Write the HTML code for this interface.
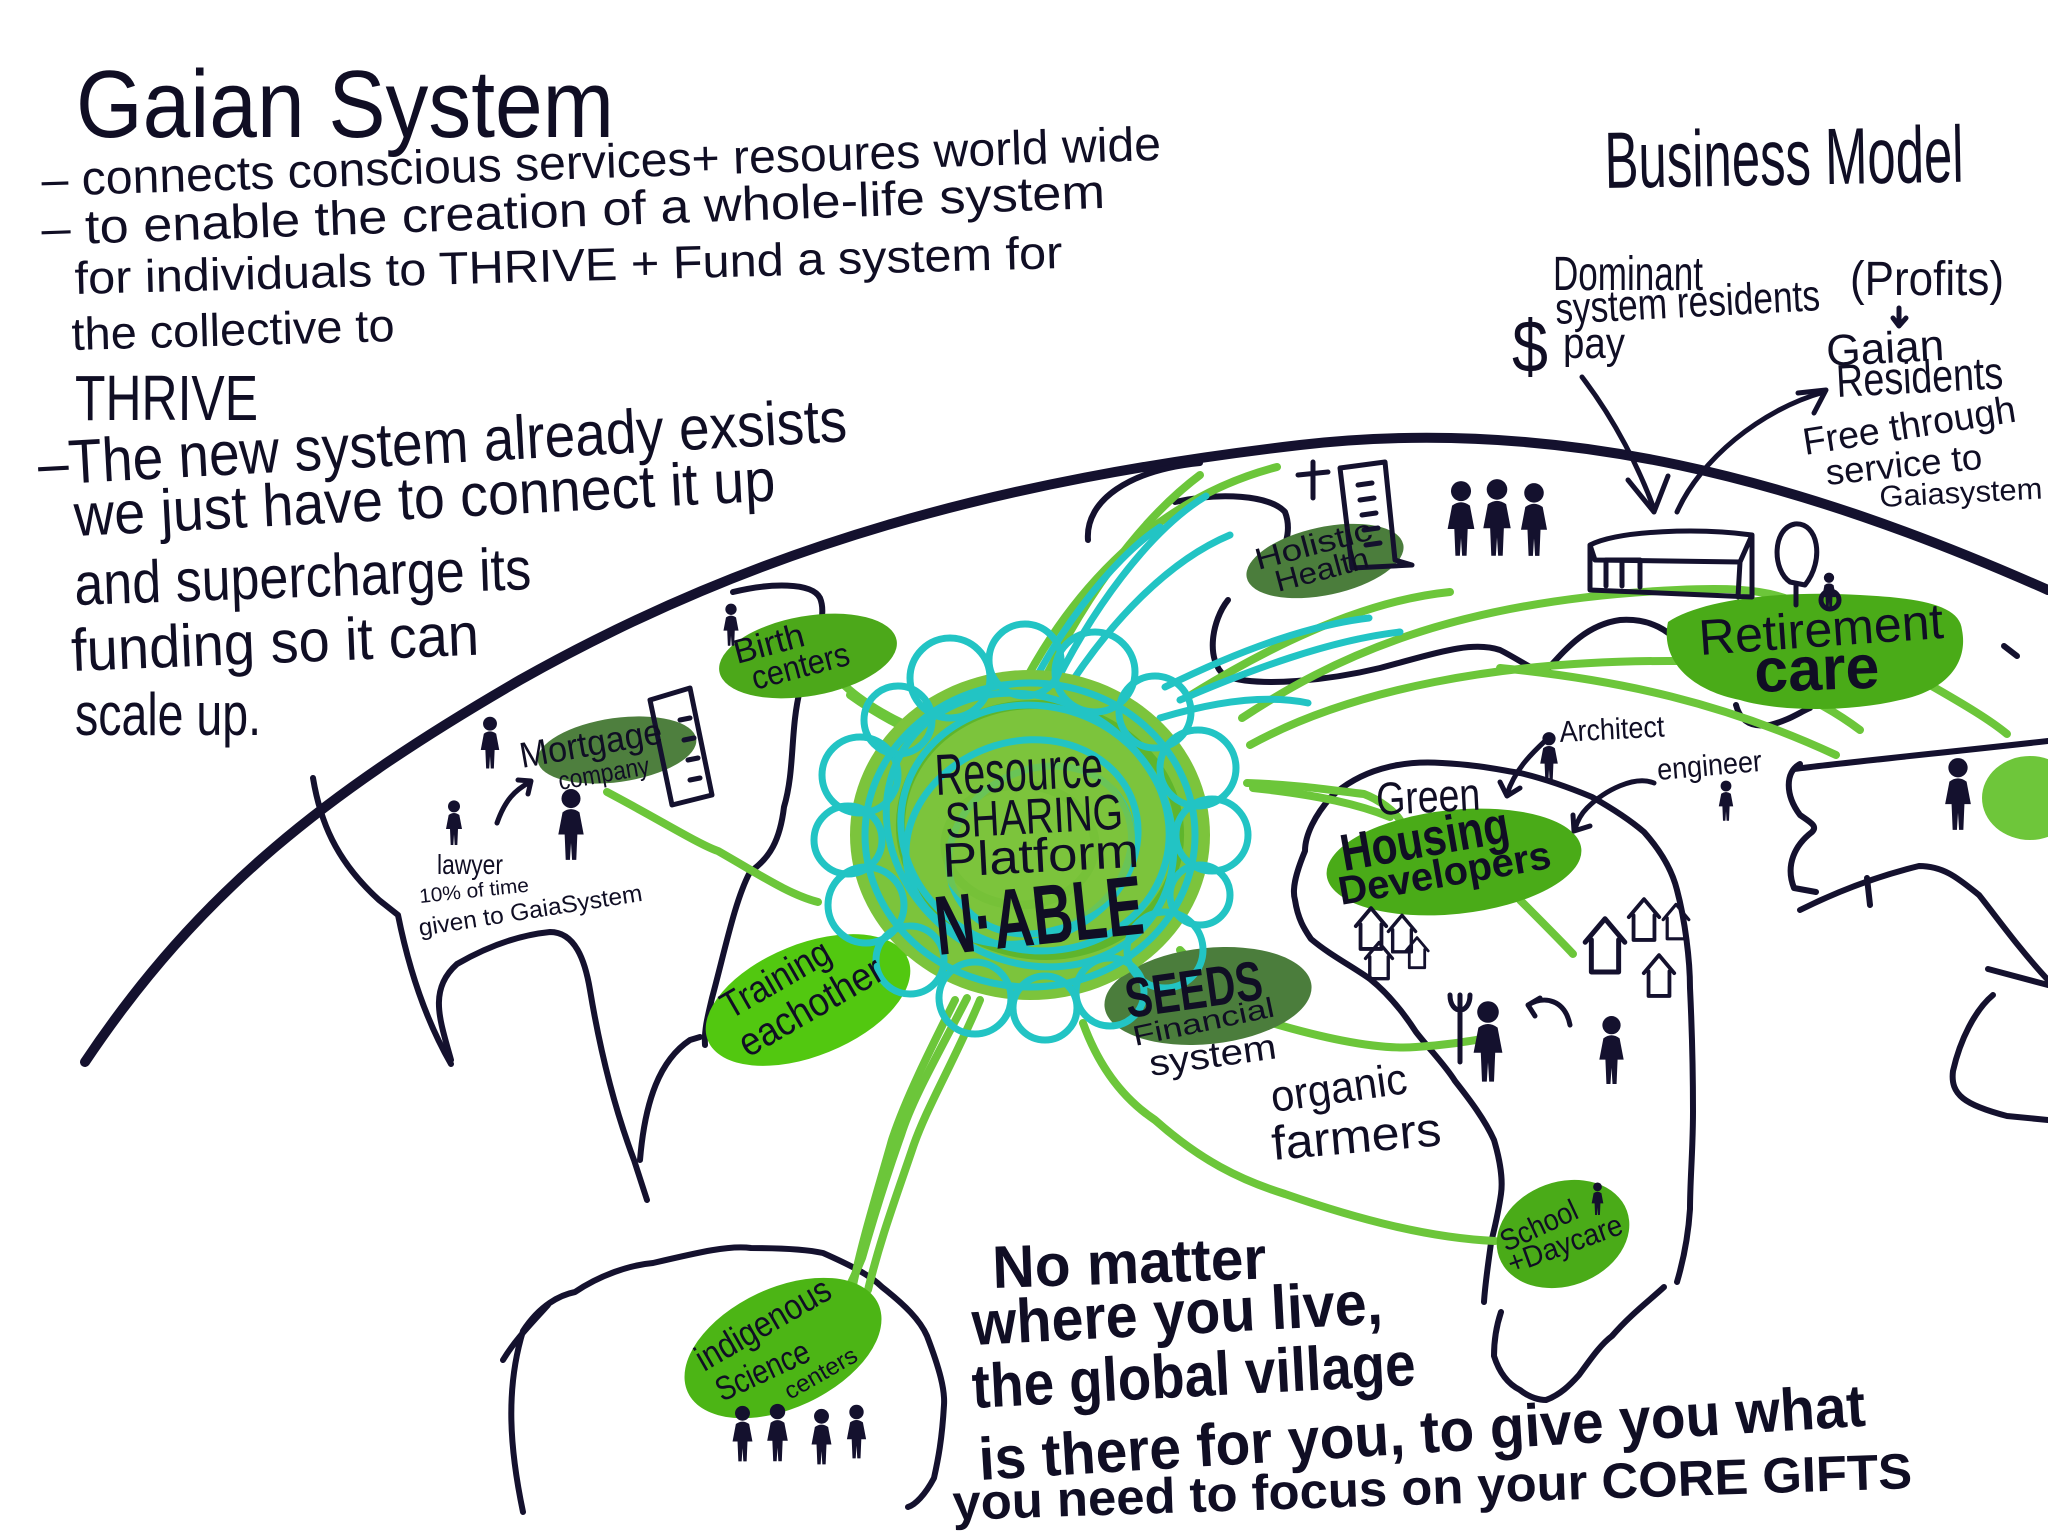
<!DOCTYPE html>
<html><head><meta charset="utf-8"><style>
html,body{margin:0;padding:0;background:#fff;}
svg{display:block;}
text{font-family:"Liberation Sans",sans-serif;fill:#100e24;}
</style></head><body>
<svg width="2048" height="1535" viewBox="0 0 2048 1535" xmlns="http://www.w3.org/2000/svg">
<defs>
<symbol id="p" viewBox="0 0 30 70"><circle cx="15" cy="10" r="9" fill="#14112e"/><path d="M7,23 Q15,17 23,23 L27,44 L21,44 L20,68 L16,68 L15,52 L14,68 L10,68 L9,44 L3,44 Z" fill="#14112e"/></symbol>
<symbol id="h" viewBox="0 0 40 50"><path d="M4,22 L20,3 L36,22 M9,20 L9,46 L31,46 L31,20" fill="none" stroke="#14112e" stroke-width="4" stroke-linejoin="round" stroke-linecap="round"/></symbol>
</defs>
<rect width="2048" height="1535" fill="#fff"/>

<!-- big globe arc -->
<path d="M85,1062 C200,890 330,790 520,680 C760,545 1000,480 1300,445 C1560,415 1800,480 2048,590" fill="none" stroke="#14112e" stroke-width="10" stroke-linecap="round"/>

<g fill="none" stroke="#14112e" stroke-width="6" stroke-linecap="round" stroke-linejoin="round">
<path d="M313,778 C320,820 335,860 379,900 L398,915 C405,950 420,1010 451,1064"/>
<path d="M451,1060 C440,1020 428,990 457,964 C490,945 520,935 550,932 C575,932 585,960 590,990 C600,1050 615,1110 634,1160 L647,1200"/>
<path d="M640,1160 C645,1100 660,1060 690,1040 L700,1037"/>
<path d="M733,592 C770,583 812,582 820,598 C830,622 805,660 800,690 C790,730 795,770 784,807 C780,840 770,858 750,872 C735,900 725,950 712,998 C708,1015 704,1030 705,1045"/>
<path d="M523,1512 C510,1450 505,1390 523,1331 C540,1305 560,1295 575,1292 C600,1275 630,1265 653,1263 C700,1252 730,1245 751,1248 C790,1248 810,1250 823,1253 C850,1265 870,1275 882,1287 C905,1305 920,1320 927,1336 C940,1370 945,1390 944,1405 C942,1440 938,1460 934,1478 C925,1495 915,1505 908,1507"/>
<path d="M503,1360 C515,1340 530,1325 548,1305"/>
<path d="M1088,540 C1085,500 1130,470 1200,463"/>
<path d="M1175,502 C1220,492 1270,495 1285,512 C1292,530 1285,545 1280,560"/>
<path d="M1228,600 C1212,620 1205,660 1225,676 C1260,688 1330,680 1380,668 C1430,655 1470,640 1500,650 C1520,660 1535,672 1545,672 C1565,650 1585,625 1620,620 C1650,618 1670,630 1685,650 C1695,670 1705,685 1720,690"/>
<path d="M1736,705 C1740,720 1750,728 1770,725 C1790,720 1800,712 1810,708"/>
<path d="M2004,646 L2017,656"/>
<path d="M1442,763 C1400,760 1360,770 1331,797 C1315,815 1305,835 1305,851 C1295,875 1292,890 1295,900 C1298,920 1305,930 1311,939 C1330,955 1350,965 1370,979 C1390,995 1405,1015 1416,1032 C1430,1050 1445,1065 1455,1081 C1470,1100 1485,1120 1494,1140 C1500,1160 1503,1180 1501,1194 C1498,1215 1494,1230 1491,1243 C1488,1265 1485,1285 1484,1302"/>
<path d="M1442,763 C1480,765 1500,770 1520,773 C1550,780 1575,790 1592,797 C1615,810 1630,820 1644,832 C1660,850 1672,870 1677,890 C1685,920 1690,960 1690,988 C1692,1030 1693,1080 1693,1111 C1693,1150 1690,1180 1690,1209 C1688,1240 1682,1265 1677,1282"/>
<path d="M1501,1312 C1495,1330 1494,1345 1494,1356 C1500,1375 1510,1385 1520,1390 C1530,1398 1540,1400 1546,1400 C1560,1395 1570,1385 1579,1375 C1590,1360 1600,1345 1612,1336 C1630,1315 1650,1300 1664,1287"/>
<path d="M1794,769 C1850,762 1950,752 2048,741"/>
<path d="M1800,764 C1785,772 1785,795 1800,815 C1810,822 1818,826 1812,832 C1795,845 1785,865 1794,888 L1816,892"/>
<path d="M1800,910 C1830,895 1870,878 1919,866 C1945,866 1960,880 1979,895 C1995,915 2020,950 2048,980"/>
<path d="M1867,878 L1870,905"/>
<path d="M1988,969 L2048,985"/>
<path d="M1993,995 C1975,1010 1960,1040 1953,1071 C1950,1095 1965,1105 2007,1116 L2048,1120"/>
</g>

<!-- green connector lines -->
<g fill="none" stroke="#6cc63a" stroke-width="8" stroke-linecap="round">
<path d="M607,792 C660,820 700,845 718,851 C760,875 790,895 818,902"/>
<path d="M844,685 C860,700 880,712 900,722"/>
<path d="M850,695 C868,708 885,718 905,728"/>
<path d="M1007,718 C1060,600 1150,500 1277,467"/>
<path d="M1030,710 C1080,600 1140,520 1200,475"/>
<path d="M1191,695 C1280,640 1370,600 1450,592"/>
<path d="M1242,718 C1330,660 1450,600 1677,590 C1720,588 1760,588 1790,600"/>
<path d="M1250,745 C1350,690 1500,660 1677,661 C1760,670 1820,700 1860,730"/>
<path d="M1500,668 C1620,680 1724,703 1836,755"/>
<path d="M1930,685 C1965,705 1990,720 2007,734"/>
<path d="M1247,783 C1300,785 1330,790 1364,794 C1380,800 1395,812 1400,820"/>
<path d="M1253,788 C1320,795 1360,805 1390,817"/>
<path d="M1520,900 C1545,925 1560,940 1573,954"/>
<path d="M1272,1023 C1330,1040 1380,1050 1416,1047 C1450,1045 1475,1040 1494,1037"/>
<path d="M1083,1023 C1100,1070 1125,1100 1155,1120 C1200,1160 1240,1180 1285,1194 C1360,1220 1430,1238 1495,1241"/>
<path d="M967,998 C935,1060 912,1100 901,1135 C885,1180 870,1230 862,1258 C855,1275 848,1290 843,1297"/>
<path d="M980,1000 C955,1060 925,1110 912,1150 C895,1200 880,1240 868,1290"/>
<path d="M955,1000 C930,1050 905,1100 892,1140 C878,1190 862,1240 852,1290"/>
<path d="M910,950 C890,960 880,970 870,980"/>
<path d="M1180,950 C1190,960 1195,970 1200,980"/>
</g>
<g fill="none" stroke="#22c4c4" stroke-width="7" stroke-linecap="round">
<path d="M1048,699 C1090,610 1150,530 1206,496"/>
<path d="M1017,718 C1050,640 1110,560 1160,527"/>
<path d="M1060,700 C1110,620 1170,560 1230,535"/>
<path d="M1160,718 C1220,700 1270,695 1308,703"/>
<path d="M1165,687 C1240,650 1310,625 1369,618"/>
<path d="M1180,700 C1250,670 1330,640 1400,632"/>
</g>

<!-- blobs -->
<g>
<ellipse cx="617" cy="750" rx="80" ry="32" fill="#4e7f3e" transform="rotate(-8 617 750)"/>
<ellipse cx="808" cy="656" rx="90" ry="40" fill="#4ca81a" transform="rotate(-10 808 656)"/>
<ellipse cx="1325" cy="561" rx="80" ry="34" fill="#4b7d3c" transform="rotate(-12 1325 561)"/>
<path d="M1668,622 C1700,600 1780,590 1860,595 C1920,598 1960,605 1962,630 C1968,660 1950,690 1900,700 C1850,712 1780,712 1740,700 C1690,690 1660,660 1668,622 Z" fill="#4aab18"/>
<ellipse cx="808" cy="1000" rx="108" ry="56" fill="#52c810" transform="rotate(-22 808 1000)"/>
<ellipse cx="1208" cy="996" rx="104" ry="48" fill="#4b7d3c" transform="rotate(-6 1208 996)"/>
<ellipse cx="1454" cy="862" rx="128" ry="52" fill="#4aab18" transform="rotate(-6 1454 862)"/>
<ellipse cx="1563" cy="1234" rx="68" ry="52" fill="#4aab18" transform="rotate(-20 1563 1234)"/>
<ellipse cx="783" cy="1348" rx="105" ry="60" fill="#4cb515" transform="rotate(-25 783 1348)"/>
<ellipse cx="2030" cy="798" rx="48" ry="42" fill="#6ec63a"/>
</g>

<!-- platform -->
<g>
<ellipse cx="1030" cy="835" rx="180" ry="165" fill="#7cc43c"/>
<g fill="none" stroke="#5fb52c" stroke-width="9">
<ellipse cx="1040" cy="830" rx="140" ry="125" transform="rotate(10 1040 830)"/>
<ellipse cx="1020" cy="845" rx="75" ry="60"/>
</g>
<g fill="none" stroke="#22c4c4" stroke-width="7">
<circle cx="1212" cy="835" r="36"/><circle cx="1200" cy="895" r="30"/><circle cx="1165" cy="950" r="38"/><circle cx="1110" cy="992" r="34"/>
<circle cx="1045" cy="1008" r="32"/><circle cx="975" cy="998" r="36"/><circle cx="910" cy="960" r="34"/><circle cx="866" cy="905" r="38"/>
<circle cx="848" cy="840" r="34"/><circle cx="860" cy="775" r="38"/><circle cx="898" cy="720" r="34"/><circle cx="950" cy="678" r="40"/>
<circle cx="1025" cy="660" r="36"/><circle cx="1095" cy="672" r="40"/><circle cx="1155" cy="712" r="36"/><circle cx="1198" cy="768" r="38"/>
<ellipse cx="1030" cy="835" rx="165" ry="152"/>
<ellipse cx="1035" cy="828" rx="135" ry="122" transform="rotate(15 1035 828)"/>
<ellipse cx="1022" cy="842" rx="118" ry="100" transform="rotate(-20 1022 842)"/>
<ellipse cx="1030" cy="830" rx="150" ry="130" transform="rotate(35 1030 830)"/>
<ellipse cx="1040" cy="850" rx="95" ry="80" transform="rotate(-30 1040 850)"/>
</g>
<ellipse cx="1035" cy="840" rx="100" ry="88" fill="#7cc43c" opacity="0.8"/>
</g>

<!-- icons -->
<g fill="none" stroke="#14112e" stroke-width="5" stroke-linecap="round" stroke-linejoin="round">
<path d="M650,700 L690,688 L712,795 L672,805 Z"/>
<path d="M680,720 L690,718 M684,740 L694,738 M688,760 L698,758 M690,780 L700,778"/>
<path d="M1340,468 L1385,462 L1395,560 L1412,565 L1352,568 Z"/>
<path d="M1358,485 L1372,483 M1360,500 L1374,498 M1362,515 L1376,513 M1364,530 L1378,528 M1366,545 L1380,543"/>
<path d="M1313,462 L1313,498 M1298,475 L1328,472"/>
<path d="M1590,545 C1620,530 1700,528 1752,535 L1752,597 L1590,590 Z M1590,545 L1595,560 L1740,562 L1752,535 M1740,562 L1738,597"/>
<path d="M1606,586 L1606,560 L1640,560 L1640,587 M1622,562 L1622,586"/>
<path d="M1790,582 C1772,570 1772,528 1795,524 C1818,522 1825,560 1805,585 Z M1796,586 L1796,605"/>
<circle cx="1830" cy="600" r="9"/>
<path d="M1582,377 C1615,420 1640,470 1654,509"/>
<path d="M1628,480 L1654,512 L1668,476"/>
<path d="M1677,512 C1700,460 1760,410 1824,392"/>
<path d="M1798,393 L1826,390 L1814,413"/>
<path d="M1899,308 L1899,326 M1893,318 L1899,326 L1906,318"/>
<path d="M497,823 C505,800 515,790 530,782 M518,780 L531,781 L528,794"/>
<path d="M1545,741 C1530,755 1515,770 1507,794 M1500,782 L1507,796 L1520,788"/>
<path d="M1654,783 C1635,775 1605,790 1587,808 C1580,815 1577,822 1575,829 M1573,815 L1574,831 L1590,826"/>
<path d="M1528,1005 C1545,995 1565,1000 1570,1025 M1528,1005 L1540,998 M1528,1005 L1535,1016"/>
<path d="M1460,995 L1460,1062 M1450,995 C1450,1015 1470,1015 1470,995"/>
</g>
<use href="#h" x="1352" y="905" width="38" height="48"/>
<use href="#h" x="1385" y="912" width="34" height="44"/>
<use href="#h" x="1362" y="940" width="34" height="42"/>
<use href="#h" x="1403" y="935" width="28" height="36"/>
<use href="#h" x="1580" y="915" width="50" height="62"/>
<use href="#h" x="1625" y="895" width="38" height="50"/>
<use href="#h" x="1660" y="900" width="32" height="44"/>
<use href="#h" x="1640" y="950" width="38" height="52"/>
<use href="#p" x="716" y="603" width="30" height="44"/>
<use href="#p" x="477" y="716" width="26" height="54"/>
<use href="#p" x="444" y="797" width="20" height="52"/>
<use href="#p" x="553" y="788" width="36" height="74"/>
<use href="#p" x="1442" y="480" width="38" height="78"/>
<use href="#p" x="1478" y="478" width="38" height="80"/>
<use href="#p" x="1515" y="482" width="38" height="76"/>
<use href="#p" x="1818" y="572" width="22" height="40"/>
<use href="#p" x="1538" y="727" width="22" height="60"/>
<use href="#p" x="1711" y="780" width="30" height="42"/>
<use href="#p" x="1468" y="1000" width="40" height="84"/>
<use href="#p" x="1595" y="1015" width="33" height="71"/>
<use href="#p" x="1585" y="1182" width="25" height="34"/>
<use href="#p" x="1937" y="757" width="42" height="75"/>
<use href="#p" x="725" y="1405" width="35" height="58"/>
<use href="#p" x="760" y="1403" width="35" height="60"/>
<use href="#p" x="805" y="1408" width="33" height="58"/>
<use href="#p" x="840" y="1404" width="33" height="56"/>

<!-- left text block -->
<text x="76" y="137" font-size="96" textLength="538" lengthAdjust="spacingAndGlyphs">Gaian System</text>
<text x="42" y="196" font-size="48" textLength="1120" lengthAdjust="spacingAndGlyphs" transform="rotate(-1.85 42 196)">– connects conscious services+ resoures world wide</text>
<text x="42" y="245" font-size="48" textLength="1064" lengthAdjust="spacingAndGlyphs" transform="rotate(-2 42 245)">– to enable the creation of a whole-life system</text>
<text x="75" y="294" font-size="46" textLength="988" lengthAdjust="spacingAndGlyphs" transform="rotate(-1.5 75 294)">for individuals to THRIVE + Fund a system for</text>
<text x="72" y="350" font-size="46" textLength="323" lengthAdjust="spacingAndGlyphs" transform="rotate(-1.6 72 350)">the collective to</text>
<text x="75" y="420" font-size="64" textLength="183" lengthAdjust="spacingAndGlyphs">THRIVE</text>
<text x="39" y="485" font-size="62" textLength="810" lengthAdjust="spacingAndGlyphs" transform="rotate(-3.1 39 485)">–The new system already exsists</text>
<text x="75" y="536" font-size="60" textLength="702" lengthAdjust="spacingAndGlyphs" transform="rotate(-2.9 75 536)">we just have to connect it up</text>
<text x="75" y="605" font-size="60" textLength="457" lengthAdjust="spacingAndGlyphs" transform="rotate(-2 75 605)">and supercharge its</text>
<text x="72" y="671" font-size="60" textLength="408" lengthAdjust="spacingAndGlyphs" transform="rotate(-2.3 72 671)">funding so it can</text>
<text x="75" y="735" font-size="60" textLength="186" lengthAdjust="spacingAndGlyphs">scale up.</text>

<!-- business model -->
<text x="1605" y="188" font-size="80" textLength="359" lengthAdjust="spacingAndGlyphs" transform="rotate(-1 1605 188)">Business Model</text>
<text x="1553" y="290" font-size="48" textLength="150" lengthAdjust="spacingAndGlyphs">Dominant</text>
<text x="1556" y="324" font-size="44" textLength="265" lengthAdjust="spacingAndGlyphs" transform="rotate(-3 1556 324)">system residents</text>
<text x="1850" y="295" font-size="48" textLength="154" lengthAdjust="spacingAndGlyphs">(Profits)</text>
<text x="1512" y="372" font-size="74" textLength="36" lengthAdjust="spacingAndGlyphs">$</text>
<text x="1563" y="358" font-size="44" textLength="62" lengthAdjust="spacingAndGlyphs">pay</text>
<text x="1827" y="366" font-size="44" textLength="118" lengthAdjust="spacingAndGlyphs" transform="rotate(-3 1827 366)">Gaian</text>
<text x="1837" y="397" font-size="46" textLength="167" lengthAdjust="spacingAndGlyphs" transform="rotate(-3 1837 397)">Residents</text>
<text x="1805" y="455" font-size="38" textLength="215" lengthAdjust="spacingAndGlyphs" transform="rotate(-9 1805 455)">Free through</text>
<text x="1827" y="485" font-size="36" textLength="157" lengthAdjust="spacingAndGlyphs" transform="rotate(-6 1827 485)">service to</text>
<text x="1880" y="507" font-size="30" textLength="163" lengthAdjust="spacingAndGlyphs" transform="rotate(-3 1880 507)">Gaiasystem</text>

<!-- blob labels -->
<text x="737" y="664" font-size="34" textLength="72" lengthAdjust="spacingAndGlyphs" transform="rotate(-15 737 664)">Birth</text>
<text x="755" y="690" font-size="34" textLength="100" lengthAdjust="spacingAndGlyphs" transform="rotate(-15 755 690)">centers</text>
<text x="522" y="768" font-size="36" textLength="144" lengthAdjust="spacingAndGlyphs" transform="rotate(-10 522 768)">Mortgage</text>
<text x="560" y="790" font-size="26" textLength="92" lengthAdjust="spacingAndGlyphs" transform="rotate(-10 560 790)">company</text>
<text x="1258" y="570" font-size="30" textLength="120" lengthAdjust="spacingAndGlyphs" transform="rotate(-15 1258 570)">Holistic</text>
<text x="1278" y="592" font-size="30" textLength="96" lengthAdjust="spacingAndGlyphs" transform="rotate(-15 1278 592)">Health</text>
<text x="1700" y="655" font-size="50" textLength="245" lengthAdjust="spacingAndGlyphs" transform="rotate(-4 1700 655)">Retirement</text>
<text x="1755" y="692" font-size="62" font-weight="bold" textLength="125" lengthAdjust="spacingAndGlyphs" transform="rotate(-2 1755 692)">care</text>
<text x="730" y="1020" font-size="38" textLength="120" lengthAdjust="spacingAndGlyphs" transform="rotate(-30 730 1020)">Training</text>
<text x="748" y="1058" font-size="40" textLength="160" lengthAdjust="spacingAndGlyphs" transform="rotate(-30 748 1058)">eachother</text>
<text x="1128" y="1018" font-size="56" font-weight="bold" textLength="138" lengthAdjust="spacingAndGlyphs" transform="rotate(-8 1128 1018)">SEEDS</text>
<text x="1135" y="1046" font-size="28" textLength="144" lengthAdjust="spacingAndGlyphs" transform="rotate(-12 1135 1046)">Financial</text>
<text x="1151" y="1076" font-size="36" textLength="128" lengthAdjust="spacingAndGlyphs" transform="rotate(-8 1151 1076)">system</text>
<text x="1377" y="815" font-size="46" textLength="104" lengthAdjust="spacingAndGlyphs" transform="rotate(-3 1377 815)">Green</text>
<text x="1344" y="871" font-size="52" font-weight="bold" textLength="170" lengthAdjust="spacingAndGlyphs" transform="rotate(-10 1344 871)">Housing</text>
<text x="1341" y="905" font-size="40" font-weight="bold" textLength="215" lengthAdjust="spacingAndGlyphs" transform="rotate(-10 1341 905)">Developers</text>
<text x="1506" y="1252" font-size="30" textLength="82" lengthAdjust="spacingAndGlyphs" transform="rotate(-25 1506 1252)">School</text>
<text x="1512" y="1274" font-size="30" textLength="120" lengthAdjust="spacingAndGlyphs" transform="rotate(-20 1512 1274)">+Daycare</text>
<text x="704" y="1372" font-size="36" textLength="150" lengthAdjust="spacingAndGlyphs" transform="rotate(-30 704 1372)">indigenous</text>
<text x="722" y="1402" font-size="34" textLength="100" lengthAdjust="spacingAndGlyphs" transform="rotate(-25 722 1402)">Science</text>
<text x="790" y="1400" font-size="24" textLength="80" lengthAdjust="spacingAndGlyphs" transform="rotate(-30 790 1400)">centers</text>

<!-- platform text -->
<text x="936" y="795" font-size="58" textLength="168" lengthAdjust="spacingAndGlyphs" transform="rotate(-3 936 795)">Resource</text>
<text x="946" y="838" font-size="50" textLength="178" lengthAdjust="spacingAndGlyphs" transform="rotate(-3 946 838)">SHARING</text>
<text x="943" y="877" font-size="48" textLength="197" lengthAdjust="spacingAndGlyphs" transform="rotate(-3 943 877)">Platform</text>
<text x="938" y="955" font-size="84" font-weight="bold" textLength="209" lengthAdjust="spacingAndGlyphs" transform="rotate(-6 938 955)">N·ABLE</text>

<!-- small labels -->
<text x="437" y="874" font-size="28" textLength="66" lengthAdjust="spacingAndGlyphs">lawyer</text>
<text x="420" y="903" font-size="20" textLength="110" lengthAdjust="spacingAndGlyphs" transform="rotate(-6 420 903)">10% of time</text>
<text x="420" y="936" font-size="24" textLength="226" lengthAdjust="spacingAndGlyphs" transform="rotate(-9 420 936)">given to GaiaSystem</text>
<text x="1560" y="742" font-size="30" textLength="105" lengthAdjust="spacingAndGlyphs" transform="rotate(-3 1560 742)">Architect</text>
<text x="1658" y="780" font-size="30" textLength="105" lengthAdjust="spacingAndGlyphs" transform="rotate(-5 1658 780)">engineer</text>
<text x="1273" y="1112" font-size="44" textLength="137" lengthAdjust="spacingAndGlyphs" transform="rotate(-8 1273 1112)">organic</text>
<text x="1273" y="1160" font-size="48" textLength="170" lengthAdjust="spacingAndGlyphs" transform="rotate(-5 1273 1160)">farmers</text>

<!-- bottom text -->
<g font-weight="bold">
<text x="993" y="1288" font-size="60" textLength="274" lengthAdjust="spacingAndGlyphs" transform="rotate(-2 993 1288)">No matter</text>
<text x="973" y="1345" font-size="62" textLength="411" lengthAdjust="spacingAndGlyphs" transform="rotate(-3 973 1345)">where you live,</text>
<text x="973" y="1408" font-size="62" textLength="444" lengthAdjust="spacingAndGlyphs" transform="rotate(-3 973 1408)">the global village</text>
<text x="980" y="1480" font-size="60" textLength="888" lengthAdjust="spacingAndGlyphs" transform="rotate(-3.5 980 1480)">is there for you, to give you what</text>
<text x="953" y="1520" font-size="50" textLength="960" lengthAdjust="spacingAndGlyphs" transform="rotate(-1.9 953 1520)">you need to focus on your CORE GIFTS</text>
</g>
</svg>
</body></html>
